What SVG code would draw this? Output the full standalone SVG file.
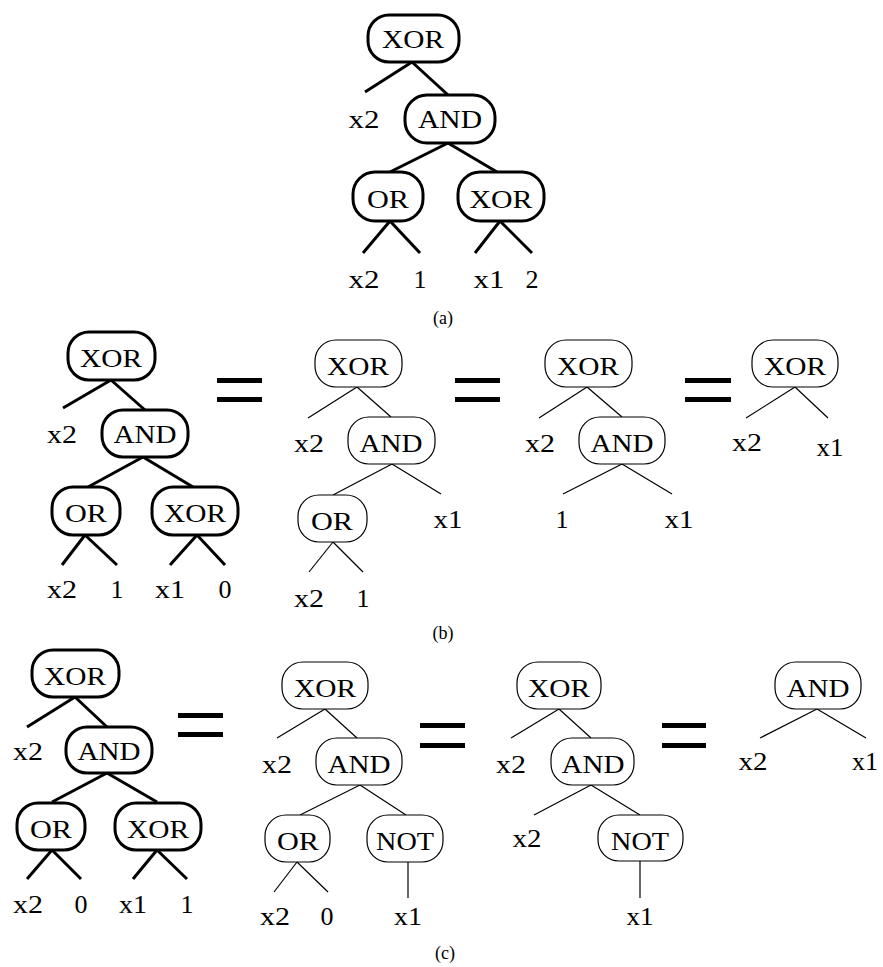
<svg xmlns="http://www.w3.org/2000/svg" width="883" height="967" viewBox="0 0 883 967">
<style>
text{font-family:"Liberation Serif","Times New Roman",serif;font-size:26px;text-anchor:middle;fill:#000}
.cap{font-size:18px}
rect{fill:#fff;stroke:#000}
.k rect{stroke-width:3}
.n rect{stroke-width:1.2}
line{stroke:#000}
.k line,line.k{stroke-width:3}
.n line,line.n{stroke-width:1.2}
.eq rect{fill:#000;stroke:none}
</style>
<g id="connectors">
<g class="k">
<line x1="412" y1="62" x2="365" y2="92"/><line x1="412" y1="62" x2="448" y2="95"/>
<line x1="448" y1="143" x2="390" y2="172"/><line x1="448" y1="143" x2="497" y2="172"/>
<line x1="390" y1="221" x2="363" y2="253"/><line x1="390" y1="221" x2="420" y2="253"/>
<line x1="500" y1="221" x2="475" y2="253"/><line x1="500" y1="221" x2="532" y2="253"/>
<line x1="111" y1="380" x2="63" y2="408"/><line x1="111" y1="380" x2="145" y2="410"/>
<line x1="143" y1="457" x2="88" y2="487"/><line x1="143" y1="457" x2="193" y2="487"/>
<line x1="85" y1="535" x2="62" y2="565"/><line x1="85" y1="535" x2="117" y2="565"/>
<line x1="197" y1="535" x2="170" y2="565"/><line x1="197" y1="535" x2="225" y2="565"/>
<line x1="75" y1="697" x2="27" y2="727"/><line x1="75" y1="697" x2="107" y2="727"/>
<line x1="107" y1="773" x2="52" y2="802"/><line x1="107" y1="773" x2="157" y2="802"/>
<line x1="52" y1="850" x2="27" y2="879"/><line x1="52" y1="850" x2="81" y2="879"/>
<line x1="157" y1="850" x2="133" y2="879"/><line x1="157" y1="850" x2="187" y2="879"/>
</g>
<g class="n">
<line x1="357" y1="387" x2="308" y2="418"/><line x1="357" y1="387" x2="391" y2="417"/>
<line x1="392" y1="464" x2="333" y2="495"/><line x1="392" y1="464" x2="441" y2="494"/>
<line x1="333" y1="542" x2="309" y2="572"/><line x1="333" y1="542" x2="363" y2="572"/>
<line x1="587" y1="387" x2="539" y2="418"/><line x1="587" y1="387" x2="622" y2="417"/>
<line x1="622" y1="464" x2="563" y2="494"/><line x1="622" y1="464" x2="672" y2="494"/>
<line x1="795" y1="387" x2="746" y2="418"/><line x1="795" y1="387" x2="828" y2="418"/>
<line x1="325" y1="709" x2="277" y2="738"/><line x1="325" y1="709" x2="357" y2="738"/>
<line x1="360" y1="785" x2="300" y2="815"/><line x1="360" y1="785" x2="406" y2="815"/>
<line x1="297" y1="862" x2="274" y2="892"/><line x1="297" y1="862" x2="328" y2="892"/>
<line x1="408" y1="862" x2="408" y2="898"/>
<line x1="559" y1="709" x2="511" y2="738"/><line x1="559" y1="709" x2="591" y2="738"/>
<line x1="591" y1="785" x2="534" y2="815"/><line x1="591" y1="785" x2="640" y2="815"/>
<line x1="640" y1="861" x2="640" y2="898"/>
<line x1="817" y1="709" x2="760" y2="738"/><line x1="817" y1="709" x2="866" y2="738"/>
</g>
</g>
<g class="k">
<g id="a-xor"><rect x="368" y="15" width="91" height="47" rx="21"/><text x="413" y="48" textLength="62" lengthAdjust="spacingAndGlyphs">XOR</text></g>
<g id="a-x2"><text x="364" y="128" textLength="31" lengthAdjust="spacingAndGlyphs">x2</text></g>
<g id="a-and"><rect x="405" y="95" width="90" height="48" rx="22"/><text x="450" y="128" textLength="64" lengthAdjust="spacingAndGlyphs">AND</text></g>
<g id="a-or"><rect x="353" y="172" width="70" height="49" rx="22"/><text x="388" y="208" textLength="42" lengthAdjust="spacingAndGlyphs">OR</text></g>
<g id="a-xor2"><rect x="458" y="172" width="86" height="49" rx="22"/><text x="501" y="208" textLength="63" lengthAdjust="spacingAndGlyphs">XOR</text></g>
<g id="a-l1"><text x="364" y="288" textLength="31" lengthAdjust="spacingAndGlyphs">x2</text></g>
<g id="a-l2"><text x="420" y="288">1</text></g>
<g id="a-l3"><text x="489" y="288" textLength="31" lengthAdjust="spacingAndGlyphs">x1</text></g>
<g id="a-l4"><text x="532" y="288">2</text></g>
</g>
<text id="cap-a" class="cap" x="443" y="324">(a)</text>
<g class="k">
<g id="b1-xor"><rect x="68" y="332" width="87" height="48" rx="21"/><text x="111" y="367" textLength="62" lengthAdjust="spacingAndGlyphs">XOR</text></g>
<g id="b1-x2"><text x="62" y="443" textLength="30" lengthAdjust="spacingAndGlyphs">x2</text></g>
<g id="b1-and"><rect x="102" y="410" width="86" height="47" rx="21"/><text x="145" y="443" textLength="63" lengthAdjust="spacingAndGlyphs">AND</text></g>
<g id="b1-or"><rect x="52" y="487" width="68" height="48" rx="21"/><text x="86" y="522" textLength="42" lengthAdjust="spacingAndGlyphs">OR</text></g>
<g id="b1-xor2"><rect x="152" y="487" width="86" height="48" rx="21"/><text x="195" y="522" textLength="62" lengthAdjust="spacingAndGlyphs">XOR</text></g>
<g id="b1-l1"><text x="62" y="598" textLength="30" lengthAdjust="spacingAndGlyphs">x2</text></g>
<g id="b1-l2"><text x="117" y="598">1</text></g>
<g id="b1-l3"><text x="170" y="598" textLength="30" lengthAdjust="spacingAndGlyphs">x1</text></g>
<g id="b1-l4"><text x="225" y="598">0</text></g>
</g>
<g class="n">
<g id="b2-xor"><rect x="315" y="340" width="87" height="47" rx="21"/><text x="358" y="375" textLength="62" lengthAdjust="spacingAndGlyphs">XOR</text></g>
<g id="b2-x2"><text x="309" y="452" textLength="30" lengthAdjust="spacingAndGlyphs">x2</text></g>
<g id="b2-and"><rect x="348" y="417" width="87" height="47" rx="21"/><text x="391" y="452" textLength="63" lengthAdjust="spacingAndGlyphs">AND</text></g>
<g id="b2-x1"><text x="448" y="528" textLength="29" lengthAdjust="spacingAndGlyphs">x1</text></g>
<g id="b2-or"><rect x="298" y="495" width="69" height="47" rx="21"/><text x="332" y="530" textLength="42" lengthAdjust="spacingAndGlyphs">OR</text></g>
<g id="b2-l1"><text x="309" y="607" textLength="30" lengthAdjust="spacingAndGlyphs">x2</text></g>
<g id="b2-l2"><text x="363" y="607">1</text></g>
<g id="b3-xor"><rect x="545" y="340" width="87" height="47" rx="21"/><text x="588" y="375" textLength="62" lengthAdjust="spacingAndGlyphs">XOR</text></g>
<g id="b3-x2"><text x="540" y="452" textLength="30" lengthAdjust="spacingAndGlyphs">x2</text></g>
<g id="b3-and"><rect x="579" y="417" width="86" height="47" rx="21"/><text x="622" y="452" textLength="63" lengthAdjust="spacingAndGlyphs">AND</text></g>
<g id="b3-one"><text x="562" y="528">1</text></g>
<g id="b3-x1"><text x="679" y="528" textLength="29" lengthAdjust="spacingAndGlyphs">x1</text></g>
<g id="b4-xor"><rect x="752" y="340" width="86" height="47" rx="21"/><text x="795" y="375" textLength="62" lengthAdjust="spacingAndGlyphs">XOR</text></g>
<g id="b4-x2"><text x="747" y="451" textLength="30" lengthAdjust="spacingAndGlyphs">x2</text></g>
<g id="b4-x1"><text x="830" y="456" textLength="27" lengthAdjust="spacingAndGlyphs">x1</text></g>
</g>
<text id="cap-b" class="cap" x="443" y="639">(b)</text>
<g class="k">
<g id="c1-xor"><rect x="32" y="650" width="87" height="47" rx="21"/><text x="75" y="685" textLength="62" lengthAdjust="spacingAndGlyphs">XOR</text></g>
<g id="c1-x2"><text x="28" y="760" textLength="30" lengthAdjust="spacingAndGlyphs">x2</text></g>
<g id="c1-and"><rect x="66" y="727" width="86" height="46" rx="21"/><text x="109" y="760" textLength="63" lengthAdjust="spacingAndGlyphs">AND</text></g>
<g id="c1-or"><rect x="17" y="803" width="68" height="47" rx="21"/><text x="51" y="838" textLength="42" lengthAdjust="spacingAndGlyphs">OR</text></g>
<g id="c1-xor2"><rect x="115" y="803" width="86" height="47" rx="21"/><text x="158" y="838" textLength="62" lengthAdjust="spacingAndGlyphs">XOR</text></g>
<g id="c1-l1"><text x="28" y="913" textLength="30" lengthAdjust="spacingAndGlyphs">x2</text></g>
<g id="c1-l2"><text x="81" y="913">0</text></g>
<g id="c1-l3"><text x="133" y="913" textLength="28" lengthAdjust="spacingAndGlyphs">x1</text></g>
<g id="c1-l4"><text x="187" y="913">1</text></g>
</g>
<g class="n">
<g id="c2-xor"><rect x="282" y="662" width="86" height="47" rx="21"/><text x="325" y="697" textLength="62" lengthAdjust="spacingAndGlyphs">XOR</text></g>
<g id="c2-x2"><text x="277" y="773" textLength="30" lengthAdjust="spacingAndGlyphs">x2</text></g>
<g id="c2-and"><rect x="316" y="738" width="86" height="47" rx="21"/><text x="359" y="773" textLength="63" lengthAdjust="spacingAndGlyphs">AND</text></g>
<g id="c2-or"><rect x="265" y="815" width="65" height="47" rx="21"/><text x="298" y="850" textLength="42" lengthAdjust="spacingAndGlyphs">OR</text></g>
<g id="c2-not"><rect x="367" y="815" width="76" height="47" rx="21"/><text x="405" y="850" textLength="58" lengthAdjust="spacingAndGlyphs">NOT</text></g>
<g id="c2-l1"><text x="275" y="925" textLength="30" lengthAdjust="spacingAndGlyphs">x2</text></g>
<g id="c2-l2"><text x="327" y="925">0</text></g>
<g id="c2-l3"><text x="408" y="925" textLength="28" lengthAdjust="spacingAndGlyphs">x1</text></g>
<g id="c3-xor"><rect x="517" y="662" width="84" height="47" rx="21"/><text x="559" y="697" textLength="62" lengthAdjust="spacingAndGlyphs">XOR</text></g>
<g id="c3-x2"><text x="511" y="773" textLength="30" lengthAdjust="spacingAndGlyphs">x2</text></g>
<g id="c3-and"><rect x="551" y="738" width="83" height="47" rx="21"/><text x="593" y="773" textLength="63" lengthAdjust="spacingAndGlyphs">AND</text></g>
<g id="c3-x2b"><text x="527" y="847" textLength="29" lengthAdjust="spacingAndGlyphs">x2</text></g>
<g id="c3-not"><rect x="598" y="815" width="85" height="46" rx="21"/><text x="640" y="850" textLength="58" lengthAdjust="spacingAndGlyphs">NOT</text></g>
<g id="c3-x1"><text x="640" y="925" textLength="27" lengthAdjust="spacingAndGlyphs">x1</text></g>
<g id="c4-and"><rect x="775" y="662" width="86" height="47" rx="21"/><text x="818" y="697" textLength="63" lengthAdjust="spacingAndGlyphs">AND</text></g>
<g id="c4-x2"><text x="753" y="770" textLength="29" lengthAdjust="spacingAndGlyphs">x2</text></g>
<g id="c4-x1"><text x="865" y="770" textLength="26" lengthAdjust="spacingAndGlyphs">x1</text></g>
</g>
<text id="cap-c" class="cap" x="445" y="959">(c)</text>
<g class="eq">
<g id="eq-b1"><rect x="217" y="378" width="45" height="5"/><rect x="217" y="397" width="45" height="5"/></g>
<g id="eq-b2"><rect x="455" y="378" width="45" height="5"/><rect x="455" y="397" width="45" height="5"/></g>
<g id="eq-b3"><rect x="685" y="378" width="46" height="5"/><rect x="685" y="397" width="46" height="5"/></g>
<g id="eq-c1"><rect x="178" y="713" width="45" height="5"/><rect x="178" y="732" width="45" height="5"/></g>
<g id="eq-c2"><rect x="420" y="723" width="45" height="5"/><rect x="420" y="743" width="45" height="5"/></g>
<g id="eq-c3"><rect x="662" y="723" width="44" height="5"/><rect x="662" y="743" width="44" height="5"/></g>
</g>
</svg>
